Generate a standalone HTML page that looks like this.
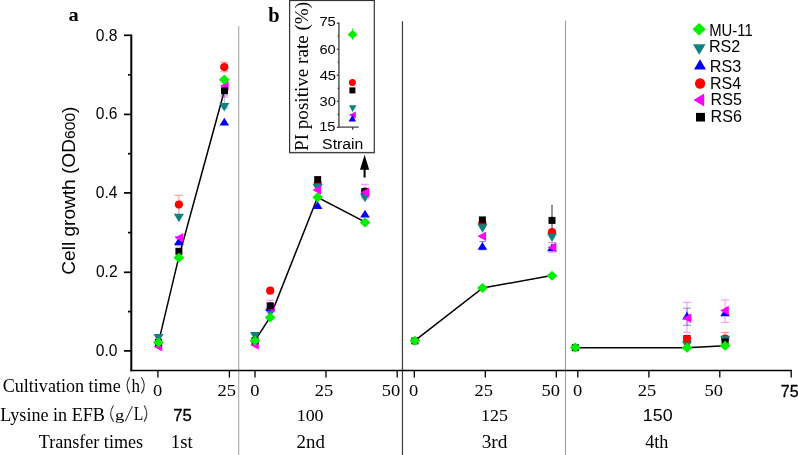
<!DOCTYPE html>
<html><head><meta charset="utf-8"><style>
html,body{margin:0;padding:0;background:#fff;}
svg{display:block;will-change:transform;}
.s{font-family:"Liberation Sans",sans-serif;fill:#000;}
.r{font-family:"Liberation Serif",serif;fill:#000;}
</style></head><body>
<svg width="798" height="455" viewBox="0 0 798 455">
<rect width="798" height="455" fill="#fff"/>
<line x1="238.7" y1="26" x2="238.7" y2="455" stroke="#b0b0b0" stroke-width="1.2"/>
<line x1="402.45" y1="21.3" x2="402.45" y2="455" stroke="#3a3a3a" stroke-width="1.2"/>
<line x1="565.5" y1="20.5" x2="565.5" y2="455" stroke="#a0a0a0" stroke-width="1.1"/>
<line x1="131.3" y1="34.5" x2="131.3" y2="371.3" stroke="#000" stroke-width="2"/>
<line x1="130.5" y1="370.45" x2="792" y2="370.45" stroke="#000" stroke-width="1.4"/>
<line x1="124" y1="350.9" x2="131" y2="350.9" stroke="#000" stroke-width="1.7"/>
<line x1="124" y1="272.3" x2="131" y2="272.3" stroke="#000" stroke-width="1.7"/>
<line x1="124" y1="192.9" x2="131" y2="192.9" stroke="#000" stroke-width="1.7"/>
<line x1="124" y1="114.4" x2="131" y2="114.4" stroke="#000" stroke-width="1.7"/>
<line x1="124" y1="35.3" x2="131" y2="35.3" stroke="#000" stroke-width="1.7"/>
<line x1="128" y1="311.6" x2="131" y2="311.6" stroke="#000" stroke-width="1.7"/>
<line x1="128" y1="232.6" x2="131" y2="232.6" stroke="#000" stroke-width="1.7"/>
<line x1="128" y1="153.7" x2="131" y2="153.7" stroke="#000" stroke-width="1.7"/>
<line x1="128" y1="74.8" x2="131" y2="74.8" stroke="#000" stroke-width="1.7"/>
<line x1="157.9" y1="370.5" x2="157.9" y2="377.6" stroke="#000" stroke-width="1.3"/>
<line x1="229.4" y1="370.5" x2="229.4" y2="377.6" stroke="#000" stroke-width="1.3"/>
<line x1="255" y1="370.5" x2="255" y2="377.6" stroke="#000" stroke-width="1.3"/>
<line x1="326" y1="370.5" x2="326" y2="377.6" stroke="#000" stroke-width="1.3"/>
<line x1="397.2" y1="370.5" x2="397.2" y2="377.6" stroke="#000" stroke-width="1.3"/>
<line x1="414.3" y1="370.5" x2="414.3" y2="377.6" stroke="#000" stroke-width="1.3"/>
<line x1="485.3" y1="370.5" x2="485.3" y2="377.6" stroke="#000" stroke-width="1.3"/>
<line x1="556.3" y1="370.5" x2="556.3" y2="377.6" stroke="#000" stroke-width="1.3"/>
<line x1="577.8" y1="370.5" x2="577.8" y2="377.6" stroke="#000" stroke-width="1.3"/>
<line x1="648.9" y1="370.5" x2="648.9" y2="377.6" stroke="#000" stroke-width="1.3"/>
<line x1="719.8" y1="370.5" x2="719.8" y2="377.6" stroke="#000" stroke-width="1.3"/>
<line x1="791.2" y1="370.5" x2="791.2" y2="377.6" stroke="#000" stroke-width="1.3"/>
<path d="M129.8 377.2Q124.2 385.29999999999995 129.8 393.4" fill="none" stroke="#2a2a2a" stroke-width="1.05"/>
<path d="M141.4 377.2Q147.2 385.29999999999995 141.4 393.4" fill="none" stroke="#2a2a2a" stroke-width="1.05"/>
<path d="M113.5 405.5Q107.8 413.6 113.5 421.7" fill="none" stroke="#2a2a2a" stroke-width="1.05"/>
<path d="M144.1 405.5Q149.5 413.6 144.1 421.7" fill="none" stroke="#2a2a2a" stroke-width="1.05"/>
<path d="M125.3 421.3L132.4 406.1" stroke="#222" stroke-width="1"/>
<g fill="none" stroke="#000" stroke-width="1.5">
<polyline points="158.5,342.4 178.7,257.7 224.3,91"/>
<polyline points="255,340.7 270,317.4 317.6,197.3 365.3,222.2"/>
<polyline points="414.9,340.7 482.7,287.9 551.8,275.6"/>
<polyline points="575.3,347.7 687,347.7 725.1,345.8"/>
</g>
<path d="M153.5 334.1L163.5 334.1L158.5 342.6Z" fill="#108080"/><path d="M162.3 342.0L162.3 351.6L153.7 346.8Z" fill="#ff00ff"/><rect x="155.0" y="338.9" width="7" height="7" fill="#000000"/><path d="M153.1 342.4L158.5 337.4L163.9 342.4L158.5 347.4Z" fill="#00f000"/>
<g stroke="#ff0000" stroke-width="1" opacity="0.45"><path d="M178.9 195.3V214.7M174.9 195.3H182.9M174.9 214.7H182.9"/></g><g stroke="#0000f5" stroke-width="1" opacity="0.45"><path d="M178.9 236.5V245.8M174.9 236.5H182.9M174.9 245.8H182.9"/></g><circle cx="178.9" cy="204.6" r="4.1" fill="#ff0000"/><path d="M173.9 213.7L183.9 213.7L178.9 222.2Z" fill="#108080"/><path d="M174.1 245.1L183.7 245.1L178.9 237.3Z" fill="#0000f5"/><path d="M183.2 233.0L183.2 242.6L174.6 237.8Z" fill="#ff00ff"/><rect x="175.4" y="247.8" width="7" height="7" fill="#000000"/><path d="M173.5 257.7L178.9 252.7L184.3 257.7L178.9 262.7Z" fill="#00f000"/>
<g stroke="#ff0000" stroke-width="1" opacity="0.45"><path d="M224.3 62.2V71.8M220.3 62.2H228.3M220.3 71.8H228.3"/></g><g stroke="#ff00ff" stroke-width="1" opacity="0.45"><path d="M224.3 81.0V97.0M220.3 81.0H228.3M220.3 97.0H228.3"/></g><g stroke="#108080" stroke-width="1" opacity="0.45"><path d="M224.3 95.7V108.2M220.3 95.7H228.3M220.3 108.2H228.3"/></g><circle cx="224.3" cy="67.1" r="4.1" fill="#ff0000"/><path d="M219.3 103.0L229.3 103.0L224.3 111.5Z" fill="#108080"/><path d="M219.5 125.5L229.1 125.5L224.3 117.7Z" fill="#0000f5"/><path d="M228.6 81.2L228.6 90.8L220.0 86.0Z" fill="#ff00ff"/><rect x="221.0" y="87.3" width="7" height="7" fill="#000000"/><path d="M218.9 79.8L224.3 74.8L229.7 79.8L224.3 84.8Z" fill="#00f000"/>
<path d="M250.0 331.9L260.0 331.9L255.0 340.4Z" fill="#108080"/><path d="M258.8 340.2L258.8 349.8L250.2 345.0Z" fill="#ff00ff"/><rect x="251.5" y="337.2" width="7" height="7" fill="#000000"/><path d="M249.6 340.7L255.0 335.7L260.4 340.7L255.0 345.7Z" fill="#00f000"/>
<g stroke="#ff00ff" stroke-width="1" opacity="0.45"><path d="M270.2 300.3V312.0M266.2 300.3H274.2M266.2 312.0H274.2"/></g><circle cx="270.2" cy="290.7" r="4.1" fill="#ff0000"/><path d="M265.2 308.8L275.2 308.8L270.2 317.2Z" fill="#108080"/><path d="M265.4 310.9L275.0 310.9L270.2 303.1Z" fill="#0000f5"/><path d="M274.5 303.2L274.5 312.8L265.9 308.0Z" fill="#ff00ff"/><rect x="266.7" y="302.3" width="7" height="7" fill="#000000"/><path d="M264.8 317.4L270.2 312.4L275.6 317.4L270.2 322.4Z" fill="#00f000"/>
<g stroke="#ff0000" stroke-width="1" opacity="0.45"><path d="M317.7 178.0V190.0M317.7 178.0H317.7M317.7 190.0H317.7"/></g><circle cx="317.7" cy="184.0" r="4.1" fill="#ff0000"/><path d="M312.7 184.1L322.7 184.1L317.7 192.6Z" fill="#108080"/><path d="M312.9 209.1L322.5 209.1L317.7 201.3Z" fill="#0000f5"/><path d="M321.0 185.2L321.0 194.8L312.4 190.0Z" fill="#ff00ff"/><rect x="314.2" y="176.1" width="7" height="7" fill="#000000"/><path d="M312.3 197.3L317.7 192.3L323.1 197.3L317.7 202.3Z" fill="#00f000"/>
<g stroke="#ff00ff" stroke-width="1" opacity="0.45"><path d="M365.0 184.3V199.0M361.0 184.3H369.0M361.0 199.0H369.0"/></g><g stroke="#0000f5" stroke-width="1" opacity="0.45"><path d="M365.0 197.0V197.0M361.0 197.0H369.0M361.0 197.0H369.0"/></g><circle cx="365.0" cy="191.5" r="4.1" fill="#ff0000"/><rect x="361.5" y="188.0" width="7" height="7" fill="#000000"/><path d="M360.0 193.8L370.0 193.8L365.0 202.2Z" fill="#108080"/><path d="M360.2 217.6L369.8 217.6L365.0 209.8Z" fill="#0000f5"/><path d="M369.3 187.6L369.3 197.2L360.7 192.4Z" fill="#ff00ff"/><path d="M359.6 222.5L365.0 217.5L370.4 222.5L365.0 227.5Z" fill="#00f000"/>
<rect x="411.4" y="337.4" width="7" height="7" fill="#000000"/><path d="M409.5 340.7L414.9 335.7L420.3 340.7L414.9 345.7Z" fill="#00f000"/>
<g stroke="#0000f5" stroke-width="1" opacity="0.5"><path d="M482.4 241.5V249.8M479.4 241.5H485.4M479.4 249.8H485.4"/></g><circle cx="482.4" cy="223.6" r="4.1" fill="#ff0000"/><path d="M477.5 224.3L487.5 224.3L482.5 232.8Z" fill="#108080"/><path d="M477.6 249.7L487.2 249.7L482.4 241.9Z" fill="#0000f5"/><path d="M486.1 231.5L486.1 241.1L477.5 236.3Z" fill="#ff00ff"/><rect x="478.9" y="216.4" width="7" height="7" fill="#000000"/><path d="M477.0 287.9L482.4 282.9L487.8 287.9L482.4 292.9Z" fill="#00f000"/>
<g stroke="#000000" stroke-width="1" opacity="0.8"><path d="M552.0 205.3V229.0M551.5 205.3H552.5M551.5 229.0H552.5"/></g><g stroke="#ff00ff" stroke-width="1" opacity="0.45"><path d="M552.0 242.5V252.2M548.0 242.5H556.0M548.0 252.2H556.0"/></g><circle cx="552.0" cy="232.2" r="4.1" fill="#ff0000"/><path d="M547.0 233.6L557.0 233.6L552.0 242.1Z" fill="#108080"/><path d="M547.2 251.2L556.8 251.2L552.0 243.4Z" fill="#0000f5"/><path d="M556.3 242.6L556.3 252.2L547.7 247.4Z" fill="#ff00ff"/><rect x="548.5" y="216.9" width="7" height="7" fill="#000000"/><path d="M546.6 275.7L552.0 270.7L557.4 275.7L552.0 280.7Z" fill="#00f000"/>
<rect x="571.8" y="344.2" width="7" height="7" fill="#000000"/><path d="M569.9 347.5L575.3 342.5L580.7 347.5L575.3 352.5Z" fill="#00f000"/>
<g stroke="#ff00ff" stroke-width="1" opacity="0.45"><path d="M687.0 302.3V332.6M683.0 302.3H691.0M683.0 332.6H691.0"/></g><g stroke="#0000f5" stroke-width="1" opacity="0.45"><path d="M687.0 308.2V325.3M683.0 308.2H691.0M683.0 325.3H691.0"/></g><rect x="683.5" y="335.0" width="7" height="7" fill="#000000"/><path d="M682.0 341.2L692.0 341.2L687.0 349.8Z" fill="#108080"/><circle cx="687.0" cy="338.8" r="4.1" fill="#ff0000"/><path d="M682.2 319.6L691.8 319.6L687.0 311.8Z" fill="#0000f5"/><path d="M691.3 313.5L691.3 323.1L682.7 318.3Z" fill="#ff00ff"/><path d="M681.6 347.7L687.0 342.7L692.4 347.7L687.0 352.7Z" fill="#00f000"/>
<g stroke="#ff00ff" stroke-width="1" opacity="0.45"><path d="M725.1 300.0V322.4M721.1 300.0H729.1M721.1 322.4H729.1"/></g><g stroke="#ff0000" stroke-width="1" opacity="0.45"><path d="M725.1 332.6V340.0M721.1 332.6H729.1M721.1 340.0H729.1"/></g><circle cx="725.1" cy="338.5" r="4.1" fill="#ff0000"/><path d="M720.1 336.2L730.1 336.2L725.1 344.8Z" fill="#108080"/><rect x="721.6" y="338.5" width="7" height="7" fill="#000000"/><path d="M720.3 316.2L729.9 316.2L725.1 308.4Z" fill="#0000f5"/><path d="M728.8 305.7L728.8 315.3L720.2 310.5Z" fill="#ff00ff"/><path d="M719.7 345.8L725.1 340.8L730.5 345.8L725.1 350.8Z" fill="#00f000"/>
<rect x="289.6" y="0.5" width="84.7" height="152" fill="#fff" stroke="#333" stroke-width="1.2"/><line x1="289" y1="153.4" x2="375" y2="153.4" stroke="#bbb" stroke-width="1"/>
<line x1="338.9" y1="22.6" x2="338.9" y2="127.3" stroke="#555" stroke-width="1.5"/>
<line x1="338.2" y1="127.1" x2="358.8" y2="127.1" stroke="#444" stroke-width="1.3"/>
<line x1="352.7" y1="127.3" x2="352.7" y2="129.8" stroke="#333" stroke-width="1.2"/>
<line x1="336.8" y1="127.3" x2="339" y2="127.3" stroke="#444" stroke-width="1.3"/>
<line x1="336.8" y1="101.3" x2="339" y2="101.3" stroke="#444" stroke-width="1.3"/>
<line x1="336.8" y1="75.2" x2="339" y2="75.2" stroke="#444" stroke-width="1.3"/>
<line x1="336.8" y1="49.2" x2="339" y2="49.2" stroke="#444" stroke-width="1.3"/>
<line x1="336.8" y1="23.2" x2="339" y2="23.2" stroke="#444" stroke-width="1.3"/>
<line x1="337.6" y1="114.3" x2="339" y2="114.3" stroke="#444" stroke-width="1.3"/>
<line x1="337.6" y1="88.3" x2="339" y2="88.3" stroke="#444" stroke-width="1.3"/>
<line x1="337.6" y1="62.2" x2="339" y2="62.2" stroke="#444" stroke-width="1.3"/>
<line x1="337.6" y1="36.2" x2="339" y2="36.2" stroke="#444" stroke-width="1.3"/>
<g stroke="#00f000" stroke-width="1" opacity="0.8"><path d="M352.6 28.2V40.0M352.6 28.2H352.6M352.6 40.0H352.6"/></g>
<path d="M347.6 34.5L352.6 30.0L357.6 34.5L352.6 39.0Z" fill="#00f000"/>
<path d="M355.9 111.5L355.9 118.5L348.9 115.0Z" fill="#ff00ff"/>
<path d="M348.6 121.5L356.1 121.5L352.4 115.0Z" fill="#0000f5"/>
<path d="M348.9 105.3L356.4 105.3L352.6 111.9Z" fill="#108080"/>
<circle cx="352.4" cy="82.4" r="3.5" fill="#ff0000"/>
<rect x="349.4" y="87.4" width="6" height="6" fill="#000000"/>
<line x1="364.6" y1="168" x2="364.6" y2="177.5" stroke="#000" stroke-width="2"/>
<path d="M364.6 154.8L369.2 169.7L360 169.7Z" fill="#000"/>
<path d="M692.4 29.2L699.1 22.9L705.8 29.2L699.1 35.6Z" fill="#00f000"/>
<path d="M692.9 44.2L705.6 44.2L699.2 54.7Z" fill="#108080"/>
<path d="M694.0 69.6L706.0 69.6L700.0 59.3Z" fill="#0000f5"/>
<circle cx="700.1" cy="83.5" r="5.15" fill="#ff0000"/>
<path d="M704.2 93.5L704.2 106.5L693.5 100.0Z" fill="#ff00ff"/>
<rect x="696" y="112.9" width="9" height="8.6" fill="#000"/>
<text transform="translate(95.86,41.18)" class="s" font-size="15.60">0.8</text>
<text transform="translate(95.86,118.83)" class="s" font-size="15.60">0.6</text>
<text transform="translate(95.78,198.03)" class="s" font-size="15.60">0.4</text>
<text transform="translate(95.94,276.73)" class="s" font-size="15.60">0.2</text>
<text transform="translate(95.86,356.08)" class="s" font-size="15.60">0.0</text>
<text transform="translate(68.39,21.01) scale(1.0667,1)" class="r" font-size="19.17" font-weight="bold">a</text>
<text transform="translate(268.30,22.00) scale(1.0196,1)" class="r" font-size="20.00" font-weight="bold">b</text>
<text transform="translate(709.21,35.64) scale(0.9547,1)" class="s" font-size="15.60">MU-11</text>
<text transform="translate(708.91,51.74) scale(1.0355,1)" class="s" font-size="15.60">RS2</text>
<text transform="translate(709.70,71.54) scale(1.0390,1)" class="s" font-size="15.60">RS3</text>
<text transform="translate(710.02,89.04) scale(1.0277,1)" class="s" font-size="15.60">RS4</text>
<text transform="translate(710.61,104.84) scale(1.0320,1)" class="s" font-size="15.60">RS5</text>
<text transform="translate(710.61,122.04) scale(1.0320,1)" class="s" font-size="15.60">RS6</text>
<text transform="translate(153.02,395.85) scale(1.0700,1)" class="r" font-size="17.30">0</text>
<text transform="translate(217.49,395.94) scale(1.0700,1)" class="r" font-size="17.30">25</text>
<text transform="translate(250.22,395.85) scale(1.0700,1)" class="r" font-size="17.30">0</text>
<text transform="translate(314.69,395.94) scale(1.0700,1)" class="r" font-size="17.30">25</text>
<text transform="translate(381.81,395.85) scale(1.0700,1)" class="r" font-size="17.30">50</text>
<text transform="translate(408.92,395.85) scale(1.0700,1)" class="r" font-size="17.30">0</text>
<text transform="translate(474.39,395.94) scale(1.0700,1)" class="r" font-size="17.30">25</text>
<text transform="translate(541.41,395.85) scale(1.0700,1)" class="r" font-size="17.30">50</text>
<text transform="translate(572.92,395.85) scale(1.0700,1)" class="r" font-size="17.30">0</text>
<text transform="translate(637.79,395.94) scale(1.0700,1)" class="r" font-size="17.30">25</text>
<text transform="translate(704.56,395.85) scale(1.0700,1)" class="r" font-size="17.30">50</text>
<text transform="translate(780.80,397.24)" class="s" font-size="16.00" stroke="#000" stroke-width="0.28">75</text>
<text transform="translate(2.68,391.82) scale(0.9516,1)" class="r" font-size="19.01">Cultivation time</text>
<text transform="translate(131.53,391.90) scale(0.9209,1)" class="r" font-size="18.55">h</text>
<text transform="translate(0.21,420.70) scale(0.9508,1)" class="r" font-size="19.07">Lysine in EFB</text>
<text transform="translate(114.95,419.58) scale(1.2147,1)" class="r" font-size="15.34">g</text>
<text transform="translate(133.63,420.30) scale(0.7972,1)" class="r" font-size="19.54">L</text>
<text transform="translate(38.74,447.72) scale(0.9803,1)" class="r" font-size="18.47">Transfer times</text>
<text transform="translate(173.17,421.04) scale(1.0234,1)" class="s" font-size="16.29" stroke="#000" stroke-width="0.28">75</text>
<text transform="translate(296.68,421.18) scale(1.1100,1)" class="r" font-size="16.18">100</text>
<text transform="translate(480.98,420.64) scale(1.0937,1)" class="r" font-size="16.42">125</text>
<text transform="translate(642.77,420.83) scale(1.0663,1)" class="s" font-size="16.76">150</text>
<text transform="translate(170.81,448.11) scale(0.9910,1)" class="r" font-size="18.96">1st</text>
<text transform="translate(296.54,448.12) scale(1.0415,1)" class="r" font-size="18.14">2nd</text>
<text transform="translate(481.63,448.12) scale(1.0676,1)" class="r" font-size="18.14">3rd</text>
<text transform="translate(645.14,448.02)" class="r" font-size="18.14">4th</text>
<text transform="translate(319.41,26.35) scale(1.1500,1)" class="s" font-size="12.80">75</text>
<text transform="translate(319.41,53.52) scale(1.1500,1)" class="s" font-size="12.80">60</text>
<text transform="translate(319.63,80.25) scale(1.1500,1)" class="s" font-size="12.80">45</text>
<text transform="translate(319.48,106.07) scale(1.1500,1)" class="s" font-size="12.80">30</text>
<text transform="translate(319.19,130.95) scale(1.1500,1)" class="s" font-size="12.80">15</text>
<text transform="translate(322.11,149.05) scale(1.0439,1)" class="s" font-size="15.14">Strain</text>
<text transform="translate(74.89,274.75) rotate(-90) scale(1.0255,1)" class="s" font-size="18.62">Cell growth (OD<tspan font-size="82%">600</tspan>)</text>
<text transform="translate(307.90,150.97) rotate(-90) scale(1.0304,1)" class="r" font-size="18.56">PI positive rate (%)</text>
</svg>
</body></html>
